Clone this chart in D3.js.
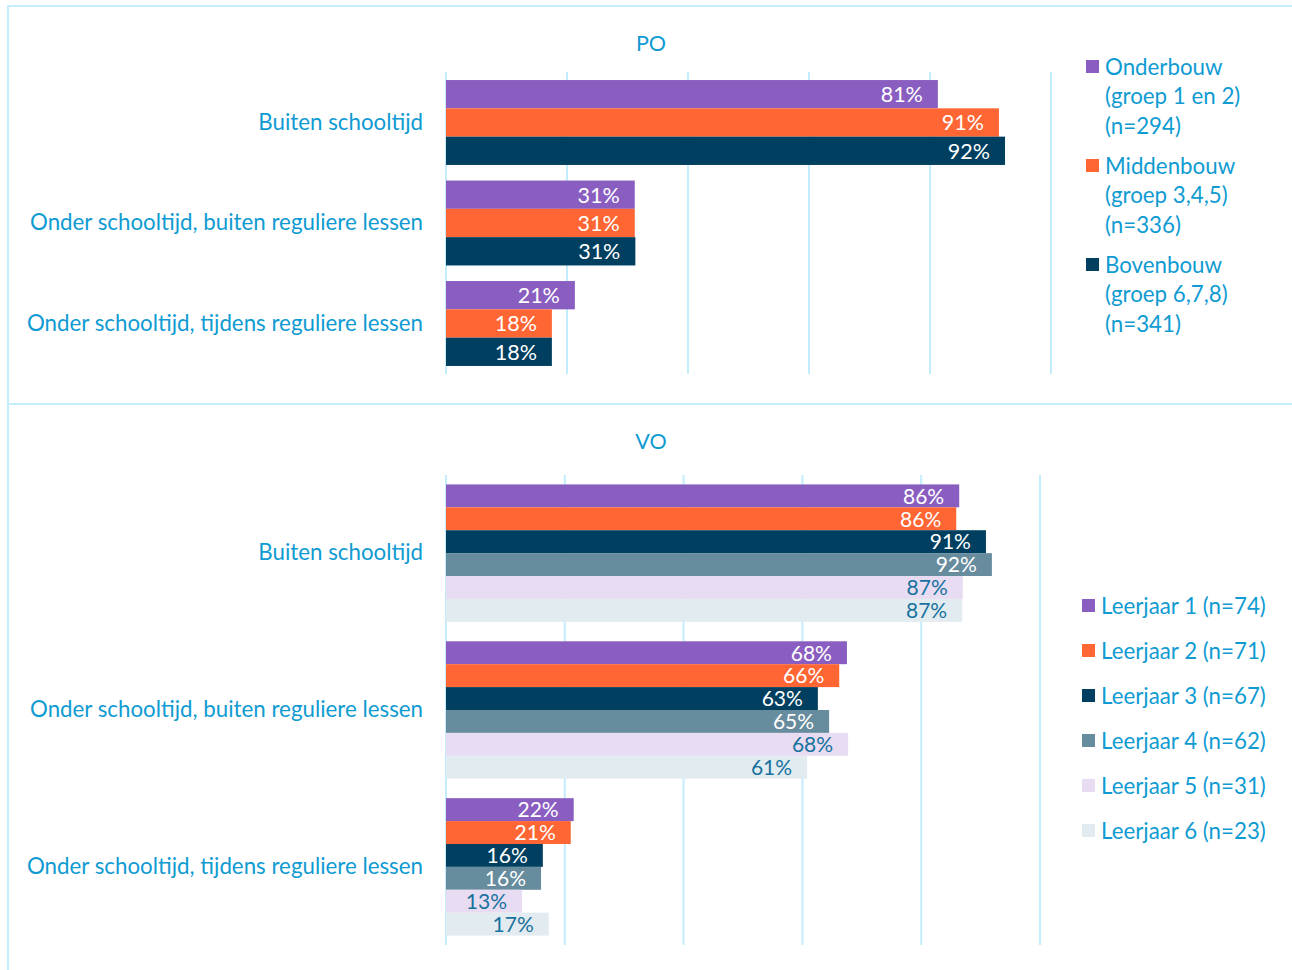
<!DOCTYPE html>
<html>
<head>
<meta charset="utf-8">
<script src="https://cdn.jsdelivr.net/npm/d3@7"></script>
<style>
  body { margin: 0; background: #fff; }
  svg text { font-family: Lato, "Open Sans", sans-serif; }
</style>
</head>
<body>
<svg id="canvas"></svg>
<script>
// categorieen (zelfde voor PO en VO)
let categories = ["Buiten schooltijd", "Onder schooltijd, buiten reguliere lessen", "Onder schooltijd, tijdens reguliere lessen"]

// PO
let poSeries = ["Onderbouw", "Middenbouw", "Bovenbouw"]
let poLegend = [
    ["Onderbouw", "(groep 1 en 2)", "(n=294)"],
    ["Middenbouw", "(groep 3,4,5)", "(n=336)"],
    ["Bovenbouw", "(groep 6,7,8)", "(n=341)"]
]
let poOnderbouw = [81.3, 31.2, 21.3]
let poMiddenbouw = [91.4, 31.2, 17.5]
let poBovenbouw = [92.4, 31.3, 17.5]

// VO
let voSeries = ["Leerjaar 1 (n=74)", "Leerjaar 2 (n=71)", "Leerjaar 3 (n=67)", "Leerjaar 4 (n=62)", "Leerjaar 5 (n=31)", "Leerjaar 6 (n=23)"]
let voLeerjaar1 = [86.4, 67.5, 21.5]
let voLeerjaar2 = [85.9, 66.2, 21.0]
let voLeerjaar3 = [90.9, 62.6, 16.3]
let voLeerjaar4 = [91.9, 64.5, 16.0]
let voLeerjaar5 = [87.0, 67.7, 12.8]
let voLeerjaar6 = [86.9, 60.8, 17.3]

let ticks = [0, 20, 40, 60, 80, 100]

let colors = ["#8a5ec1", "#ff6633", "#003f5f", "#678c9e", "#e8dcf2", "#e2ebef"]
let labelColors = ["#fff", "#fff", "#fff", "#fff", "#17729e", "#17729e"]
let textColor = "#0f9bd2"
let lineColor = "#c3ecfd"
let fontSize = "22.3px"

let width = 1292
let height = 970

let svg = d3.select("#canvas")
    .attr("width", width)
    .attr("height", height)

// kaders
svg.append("line").attr("x1", 8).attr("x2", width).attr("y1", 6).attr("y2", 6)
    .attr("stroke", lineColor).attr("stroke-width", 2)
svg.append("line").attr("x1", 8).attr("x2", 8).attr("y1", 5).attr("y2", height)
    .attr("stroke", lineColor).attr("stroke-width", 2)
svg.append("line").attr("x1", 8).attr("x2", width).attr("y1", 404).attr("y2", 404)
    .attr("stroke", lineColor).attr("stroke-width", 2)

let drawPanel = (opts) => {
    let g = svg.append("g")

    let xScale = d3.scaleLinear()
        .domain([0, 100])
        .range([446, opts.xMax])

    let yScale = d3.scaleBand()
        .domain(categories)
        .range([opts.yTop, opts.yBottom])
        .paddingInner(opts.padInner)
        .paddingOuter(opts.padOuter)

    let subScale = d3.scaleBand()
        .domain(opts.series)
        .range([0, yScale.bandwidth()])

    // titel
    g.append("text")
        .attr("x", 651)
        .attr("y", opts.titleY)
        .attr("text-anchor", "middle")
        .attr("dominant-baseline", "middle")
        .attr("fill", textColor)
        .style("font-size", "21.5px")
        .text(opts.title)

    // rasterlijnen
    g.selectAll(".grid")
        .data(ticks)
        .enter()
        .append("line")
        .attr("x1", d => xScale(d))
        .attr("x2", d => xScale(d))
        .attr("y1", opts.yTop)
        .attr("y2", opts.yBottom)
        .attr("stroke", lineColor)
        .attr("stroke-width", 2)

    let yAxis = d3.axisLeft(yScale).tickSize(0).tickPadding(23)
    let ax = g.append("g")
        .attr("transform", "translate(446,0)")
        .call(yAxis)
    ax.select(".domain").remove()
    ax.selectAll("text")
        .attr("fill", textColor)
        .style("font-size", fontSize)
        .style("font-family", "Lato, sans-serif")

    let cells = []
    opts.values.forEach((vals, si) => {
        vals.forEach((v, ci) => {
            cells.push({ series: opts.series[si], si: si, cat: categories[ci], value: v })
        })
    })

    g.selectAll(".bar")
        .data(cells)
        .enter()
        .append("rect")
        .attr("x", xScale(0))
        .attr("y", d => yScale(d.cat) + subScale(d.series))
        .attr("width", d => xScale(d.value) - xScale(0))
        .attr("height", subScale.bandwidth())
        .attr("fill", d => colors[d.si])

    g.selectAll(".label")
        .data(cells)
        .enter()
        .append("text")
        .attr("x", d => xScale(d.value) - 15)
        .attr("y", d => yScale(d.cat) + subScale(d.series) + subScale.bandwidth() / 2 + 2.5)
        .attr("text-anchor", "end")
        .attr("dominant-baseline", "middle")
        .attr("fill", d => labelColors[d.si])
        .style("font-size", opts.labelSize)
        .text(d => Math.round(d.value) + "%")
}

drawPanel({
    title: "PO", titleY: 46,
    xMax: 1051, yTop: 72, yBottom: 374,
    padInner: 0.155, padOuter: 0.08,
    labelSize: "21.5px",
    series: poSeries,
    values: [poOnderbouw, poMiddenbouw, poBovenbouw]
})

drawPanel({
    title: "VO", titleY: 444,
    xMax: 1040, yTop: 475, yBottom: 945,
    padInner: 0.124, padOuter: 0.06,
    labelSize: "21px",
    series: voSeries,
    values: [voLeerjaar1, voLeerjaar2, voLeerjaar3, voLeerjaar4, voLeerjaar5, voLeerjaar6]
})

// legenda PO
let legPO = svg.append("g")
    .selectAll("g")
    .data(poLegend)
    .enter()
    .append("g")
    .attr("transform", (d, i) => "translate(1086," + (67 + i * 99) + ")")
legPO.append("rect")
    .attr("x", 0).attr("y", -7).attr("width", 13).attr("height", 13)
    .attr("fill", (d, i) => colors[i])
legPO.each(function (d) {
    d3.select(this).selectAll("text")
        .data(d)
        .enter()
        .append("text")
        .attr("x", 19)
        .attr("y", (t, j) => j * 29.5 + 2)
        .attr("dominant-baseline", "middle")
        .attr("fill", textColor)
        .style("font-size", fontSize)
        .text(t => t)
})

// legenda VO
let legVO = svg.append("g")
    .selectAll("g")
    .data(voSeries)
    .enter()
    .append("g")
    .attr("transform", (d, i) => "translate(1082," + (606 + i * 45) + ")")
legVO.append("rect")
    .attr("x", 0).attr("y", -7).attr("width", 13).attr("height", 13)
    .attr("fill", (d, i) => colors[i])
legVO.append("text")
    .attr("x", 19)
    .attr("y", 2)
    .attr("dominant-baseline", "middle")
    .attr("fill", textColor)
    .style("font-size", fontSize)
    .text(d => d)
</script>
</body>
</html>
